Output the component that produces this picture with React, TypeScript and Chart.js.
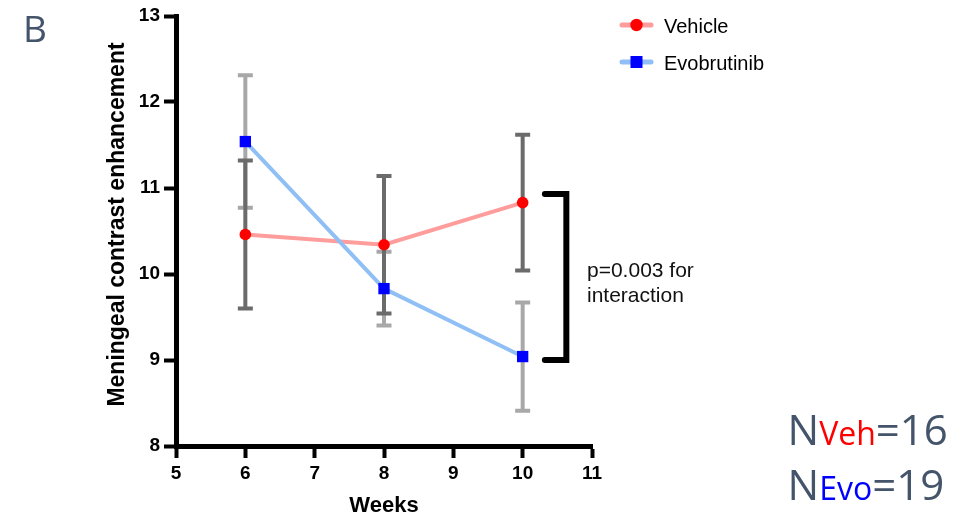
import React, { useEffect, useRef } from 'react';
import { Chart, registerables } from 'chart.js';

Chart.register(...registerables);

// ---- data ----
const weeks = [6, 8, 10];
const seriesLabels = ['Vehicle', 'Evobrutinib'];
const vehicleMean = [10.46, 10.34, 10.83];
const vehicleSem = [0.86, 0.8, 0.79];
const evoMean = [11.54, 9.83, 9.04];
const evoSem = [0.77, 0.43, 0.63];
const xTicks = [5, 6, 7, 8, 9, 10, 11];
const yTicks = [8, 9, 10, 11, 12, 13];
const bracketY = [9.0, 10.93];
const bracketX = [10.32, 10.63];
const yTitle = 'Meningeal contrast enhancement';
const xTitle = 'Weeks';
const pText = ['p=0.003 for', 'interaction'];
const nVeh = 16;
const nEvo = 19;

const AXIS_FONT = "'Liberation Sans', Arial, Helvetica, sans-serif";
const CAL_FONT = "'Open Sans', 'Noto Sans', sans-serif";
const SLATE = '#44546a';

const errorBarPlugin = {
  id: 'errorBars',
  beforeDatasetsDraw(chart: any) {
    const { ctx } = chart;
    const x = chart.scales.x;
    const y = chart.scales.y;
    const ds = chart.data.datasets;
    ctx.save();
    for (const i of [1, 0]) {
      const d = ds[i];
      ctx.strokeStyle = d.errorColor;
      ctx.lineWidth = 4;
      ctx.lineCap = 'butt';
      d.data.forEach((pt: any, k: number) => {
        const e = d.errors[k];
        const px = x.getPixelForValue(pt.x);
        const top = y.getPixelForValue(pt.y + e);
        const bot = y.getPixelForValue(pt.y - e);
        ctx.beginPath();
        ctx.moveTo(px, top);
        ctx.lineTo(px, bot);
        ctx.moveTo(px - 7.5, top);
        ctx.lineTo(px + 7.5, top);
        ctx.moveTo(px - 7.5, bot);
        ctx.lineTo(px + 7.5, bot);
        ctx.stroke();
      });
    }
    ctx.restore();
  },
};

const bracketPlugin = {
  id: 'bracket',
  afterDraw(chart: any) {
    const { ctx } = chart;
    const x = chart.scales.x;
    const y = chart.scales.y;
    const xl = x.getPixelForValue(bracketX[0]);
    const xr = x.getPixelForValue(bracketX[1]);
    const yt = y.getPixelForValue(bracketY[1]);
    const yb = y.getPixelForValue(bracketY[0]);
    ctx.save();
    ctx.strokeStyle = '#000';
    ctx.lineWidth = 6;
    ctx.lineCap = 'round';
    ctx.lineJoin = 'miter';
    ctx.beginPath();
    ctx.moveTo(xl, yt);
    ctx.lineTo(xr, yt);
    ctx.lineTo(xr, yb);
    ctx.lineTo(xl, yb);
    ctx.stroke();
    ctx.restore();
  },
};

const yTitlePlugin = {
  id: 'yTitle',
  afterDraw(chart: any) {
    const { ctx } = chart;
    ctx.save();
    ctx.translate(117.4, 224.5);
    ctx.rotate(-Math.PI / 2);
    ctx.fillStyle = '#000';
    ctx.font = `bold 23px ${AXIS_FONT}`;
    ctx.textAlign = 'center';
    ctx.textBaseline = 'middle';
    ctx.fillText(yTitle, 0, 0);
    ctx.restore();
  },
};

const legendPlugin = {
  id: 'customLegend',
  afterDraw(chart: any) {
    const { ctx } = chart;
    const ds = chart.data.datasets;
    ctx.save();
    ds.forEach((d: any, i: number) => {
      const ly = 25 + i * 37;
      ctx.strokeStyle = d.borderColor;
      ctx.lineWidth = 5;
      ctx.lineCap = 'round';
      ctx.beginPath();
      ctx.moveTo(622, ly);
      ctx.lineTo(651, ly);
      ctx.stroke();
      ctx.fillStyle = d.pointBackgroundColor;
      if (d.pointStyle === 'circle') {
        ctx.beginPath();
        ctx.arc(636.5, ly, 6.2, 0, Math.PI * 2);
        ctx.fill();
      } else {
        ctx.fillRect(636.5 - 6, ly - 6, 12, 12);
      }
      ctx.fillStyle = '#000';
      ctx.font = `20px ${AXIS_FONT}`;
      ctx.textBaseline = 'alphabetic';
      ctx.textAlign = 'left';
      ctx.fillText(d.label, 664, ly + 8.3);
    });
    ctx.restore();
  },
};

export default function App() {
  const canvasRef = useRef<HTMLCanvasElement | null>(null);

  useEffect(() => {
    if (!canvasRef.current) return;
    const chart = new Chart(canvasRef.current, {
      type: 'line',
      data: {
        datasets: [
          {
            label: seriesLabels[0],
            data: weeks.map((w, i) => ({ x: w, y: vehicleMean[i] })),
            borderColor: '#ff9d9d',
            borderWidth: 4,
            pointStyle: 'circle',
            pointRadius: 5.8,
            pointBackgroundColor: '#ff0000',
            pointBorderColor: '#ff0000',
            pointBorderWidth: 0,
            order: 1,
            errors: vehicleSem,
            errorColor: '#6b6b6b',
          } as any,
          {
            label: seriesLabels[1],
            data: weeks.map((w, i) => ({ x: w, y: evoMean[i] })),
            borderColor: '#8fbff5',
            borderWidth: 4,
            pointStyle: 'rect',
            pointRadius: 8,
            pointBackgroundColor: '#0000ff',
            pointBorderColor: '#0000ff',
            pointBorderWidth: 0,
            order: 0,
            errors: evoSem,
            errorColor: '#a8a8a8',
          } as any,
        ],
      },
      options: {
        animation: false,
        responsive: false,
        devicePixelRatio: 1,
        layout: { padding: { left: 0, top: 16, right: 374, bottom: 0 } },
        plugins: { legend: { display: false }, tooltip: { enabled: false } },
        scales: {
          x: {
            type: 'linear',
            min: 5,
            max: 11,
            afterBuildTicks: (s: any) => {
              s.ticks = xTicks.map((v) => ({ value: v }));
            },
            afterFit: (s: any) => {
              s.height = 71;
            },
            border: { display: true, color: '#000', width: 5 },
            grid: {
              display: true,
              drawOnChartArea: false,
              drawTicks: true,
              tickLength: 12,
              tickWidth: 4,
              tickColor: '#000',
            },
            ticks: {
              color: '#000',
              padding: 4,
              maxRotation: 0,
              font: { family: AXIS_FONT, size: 19, weight: 'bold' },
            },
            title: {
              display: true,
              text: xTitle,
              color: '#000',
              font: { family: AXIS_FONT, size: 22, weight: 'bold', lineHeight: 1 },
              padding: { top: 0, bottom: 0 },
            },
          },
          y: {
            type: 'linear',
            min: 8,
            max: 13,
            afterBuildTicks: (s: any) => {
              s.ticks = yTicks.map((v) => ({ value: v }));
            },
            afterFit: (s: any) => {
              s.width = 176;
            },
            border: { display: true, color: '#000', width: 5 },
            grid: {
              display: true,
              drawOnChartArea: false,
              drawTicks: true,
              tickLength: 12,
              tickWidth: 4,
              tickColor: '#000',
            },
            ticks: {
              color: '#000',
              padding: 4,
              font: { family: AXIS_FONT, size: 19, weight: 'bold' },
            },
            title: { display: false },
          },
        },
      } as any,
      plugins: [errorBarPlugin, bracketPlugin, yTitlePlugin, legendPlugin],
    });
    return () => chart.destroy();
  }, []);

  const abs: React.CSSProperties = { position: 'absolute', whiteSpace: 'nowrap', margin: 0 };

  return (
    <div style={{ position: 'fixed', left: 0, top: 0, width: 966, height: 517, background: '#fff', overflow: 'hidden' }}>
      <canvas ref={canvasRef} width={966} height={517} style={{ position: 'absolute', left: 0, top: 0, width: 966, height: 517 }} />
      <div style={{ ...abs, left: 23, top: 9, fontFamily: CAL_FONT, fontSize: 37, lineHeight: 1, color: SLATE }}>B</div>
      <div style={{ ...abs, left: 587, top: 257, fontFamily: AXIS_FONT, fontSize: 21, lineHeight: '25.4px', color: '#111' }}>
        {pText.map((t) => (
          <div key={t}>{t}</div>
        ))}
      </div>
      <div style={{ ...abs, left: 787.5, top: 407.7, fontFamily: CAL_FONT, fontSize: 42, lineHeight: 1, color: SLATE }}>
        N<span style={{ fontSize: 32, color: '#ff0000' }}>Veh</span>={nVeh}
      </div>
      <div style={{ ...abs, left: 787.5, top: 463.4, fontFamily: CAL_FONT, fontSize: 42, lineHeight: 1, color: SLATE }}>
        N<span style={{ fontSize: 32, color: '#0000ff' }}>Evo</span>={nEvo}
      </div>
    </div>
  );
}
